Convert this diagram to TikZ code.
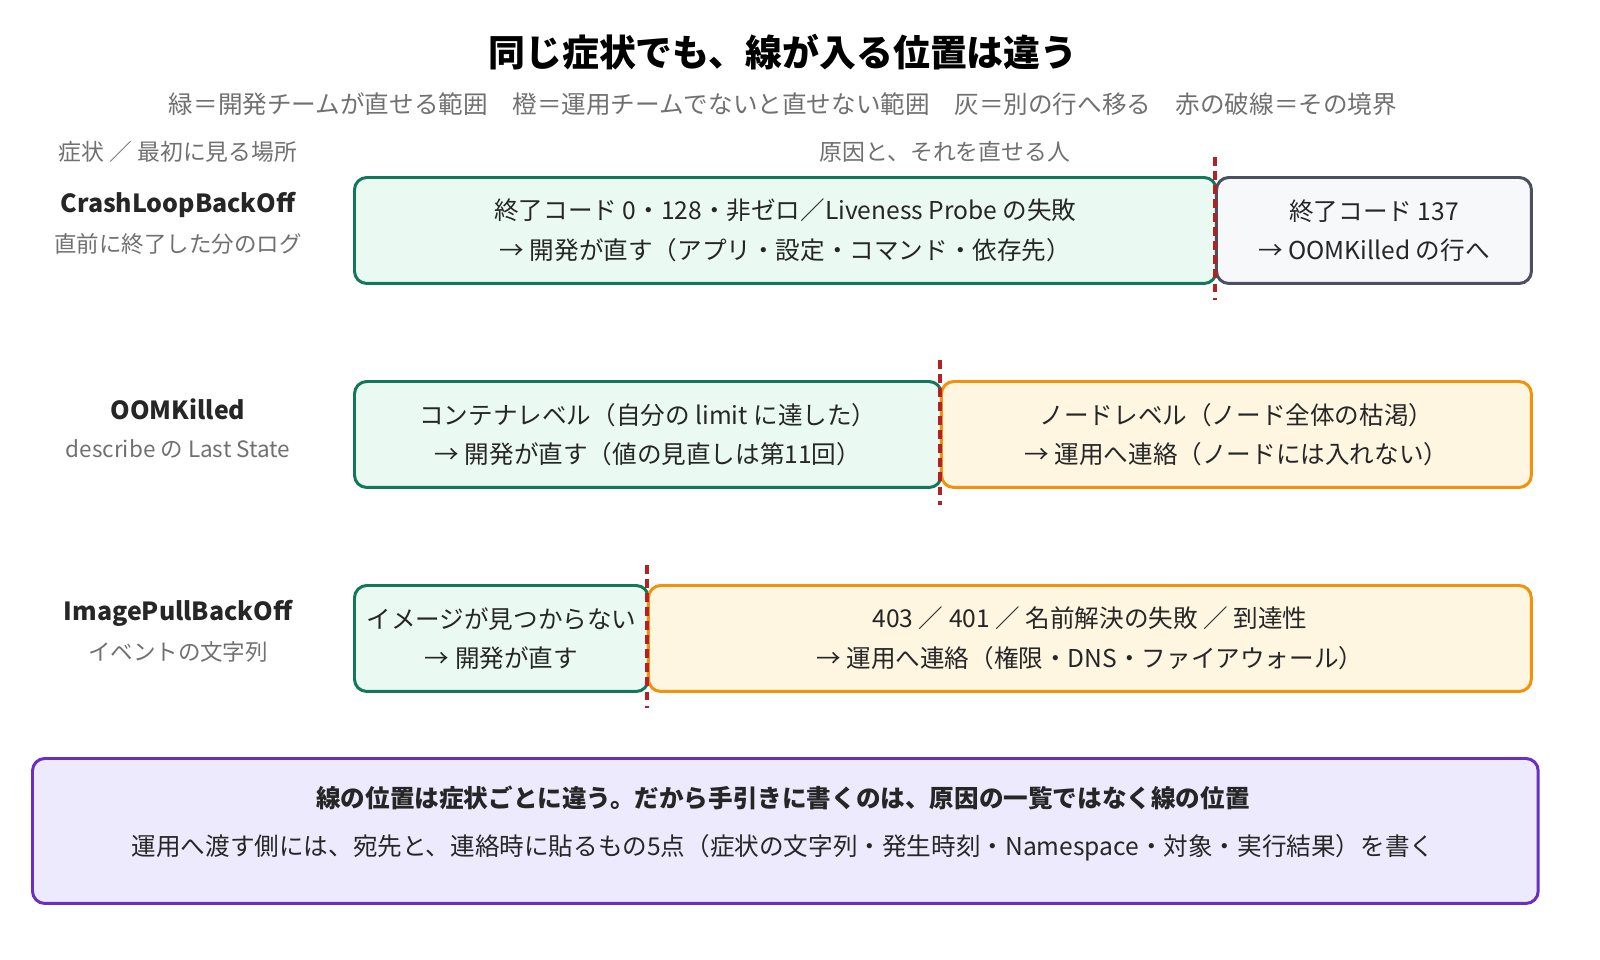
\documentclass[tikz,border=0pt]{standalone}
\usepackage{fontspec}
\setmainfont{Noto Sans CJK JP}
\usetikzlibrary{positioning}
\definecolor{devline}{HTML}{12785A}
\definecolor{devfill}{HTML}{EAFAF3}
\definecolor{opsline}{HTML}{F5900A}
\definecolor{opsfill}{HTML}{FEF6E0}
\definecolor{gryline}{HTML}{4A5060}
\definecolor{gryfill}{HTML}{F6F8FA}
\definecolor{sumline}{HTML}{6A2FC0}
\definecolor{sumfill}{HTML}{EEEAFD}
\definecolor{bordred}{HTML}{B22222}
\definecolor{note}{HTML}{707070}
\tikzset{
 box/.style={draw,line width=1.7pt,rounded corners=7pt,anchor=north west,
  minimum height=2.12cm,align=center,inner sep=0pt,
  font=\fontsize{14}{22.5}\selectfont,text=black!85},
 dev/.style={box,draw=devline,fill=devfill},
 ops/.style={box,draw=opsline,fill=opsfill},
 gry/.style={box,draw=gryline,fill=gryfill},
 sym/.style={font=\fontsize{14.2}{16}\selectfont\bfseries,text=black!85},
 where/.style={font=\fontsize{12.8}{15}\selectfont,text=note},
 border/.style={bordred,line width=1.8pt,dash pattern=on 5pt off 3pt},
}
\begin{document}
\begin{tikzpicture}[x=0.02cm,y=-0.02cm]
\useasboundingbox (0,0) rectangle (1600,960);
\node[font=\fontsize{21}{24}\selectfont\bfseries] (title) at (783,52) {同じ症状でも、線が入る位置は違う};
\node[font=\fontsize{14}{16}\selectfont,text=note] (legend) at (783,104) {緑＝開発チームが直せる範囲\quad 橙＝運用チームでないと直せない範囲\quad 灰＝別の行へ移る\quad 赤の破線＝その境界};
\node[where,font=\fontsize{13}{15}\selectfont] (hsym) at (178,152) {症状 ／ 最初に見る場所};
\node[where,font=\fontsize{13}{15}\selectfont] (hcause) at (945,152) {原因と、それを直せる人};
% row 1
\node[sym] (s1) at (178,205) {CrashLoopBackOff};
\node[where] (w1) at (178,244) {直前に終了した分のログ};
\node[dev,minimum width=17.24cm] (d1) at (353,176) {終了コード 0・128・非ゼロ／Liveness Probe の失敗\\→ 開発が直す（アプリ・設定・コマンド・依存先）};
\node[gry,minimum width=6.3cm] (g1) at (1215,176) {終了コード 137\\→ OOMKilled の行へ};
\coordinate (b1t) at (1215,157); \coordinate (b1b) at (1215,300);
\draw[border] (b1t) -- (b1b);
% row 2
\node[sym] (s2) at (178,409) {OOMKilled};
\node[where] (w2) at (178,449) {describe の Last State};
\node[dev,minimum width=11.74cm] (d2) at (353,380) {コンテナレベル（自分の limit に達した）\\→ 開発が直す（値の見直しは第11回）};
\node[ops,minimum width=11.8cm] (o2) at (940,380) {ノードレベル（ノード全体の枯渇）\\→ 運用へ連絡（ノードには入れない）};
\coordinate (b2t) at (940,360); \coordinate (b2b) at (940,505);
\draw[border] (b2t) -- (b2b);
% row 3
\node[sym] (s3) at (178,613) {ImagePullBackOff};
\node[where] (w3) at (178,652) {イベントの文字列};
\node[dev,minimum width=5.88cm] (d3) at (353,584) {イメージが見つからない\\→ 開発が直す};
\node[ops,minimum width=17.66cm] (o3) at (647,584) {403 ／ 401 ／ 名前解決の失敗 ／ 到達性\\→ 運用へ連絡（権限・DNS・ファイアウォール）};
\coordinate (b3t) at (647,565); \coordinate (b3b) at (647,708);
\draw[border] (b3t) -- (b3b);
% summary
\node[box,draw=sumline,fill=sumfill,minimum width=30.12cm,minimum height=2.9cm] (sum) at (31,757) {};
\node[font=\fontsize{14}{16}\selectfont\bfseries,text=black!85] (sum1) at (783,798) {線の位置は症状ごとに違う。だから手引きに書くのは、原因の一覧ではなく線の位置};
\node[font=\fontsize{14}{16}\selectfont,text=black!85] (sum2) at (783,848) {運用へ渡す側には、宛先と、連絡時に貼るもの5点（症状の文字列・発生時刻・Namespace・対象・実行結果）を書く};
\end{tikzpicture}
\end{document}
